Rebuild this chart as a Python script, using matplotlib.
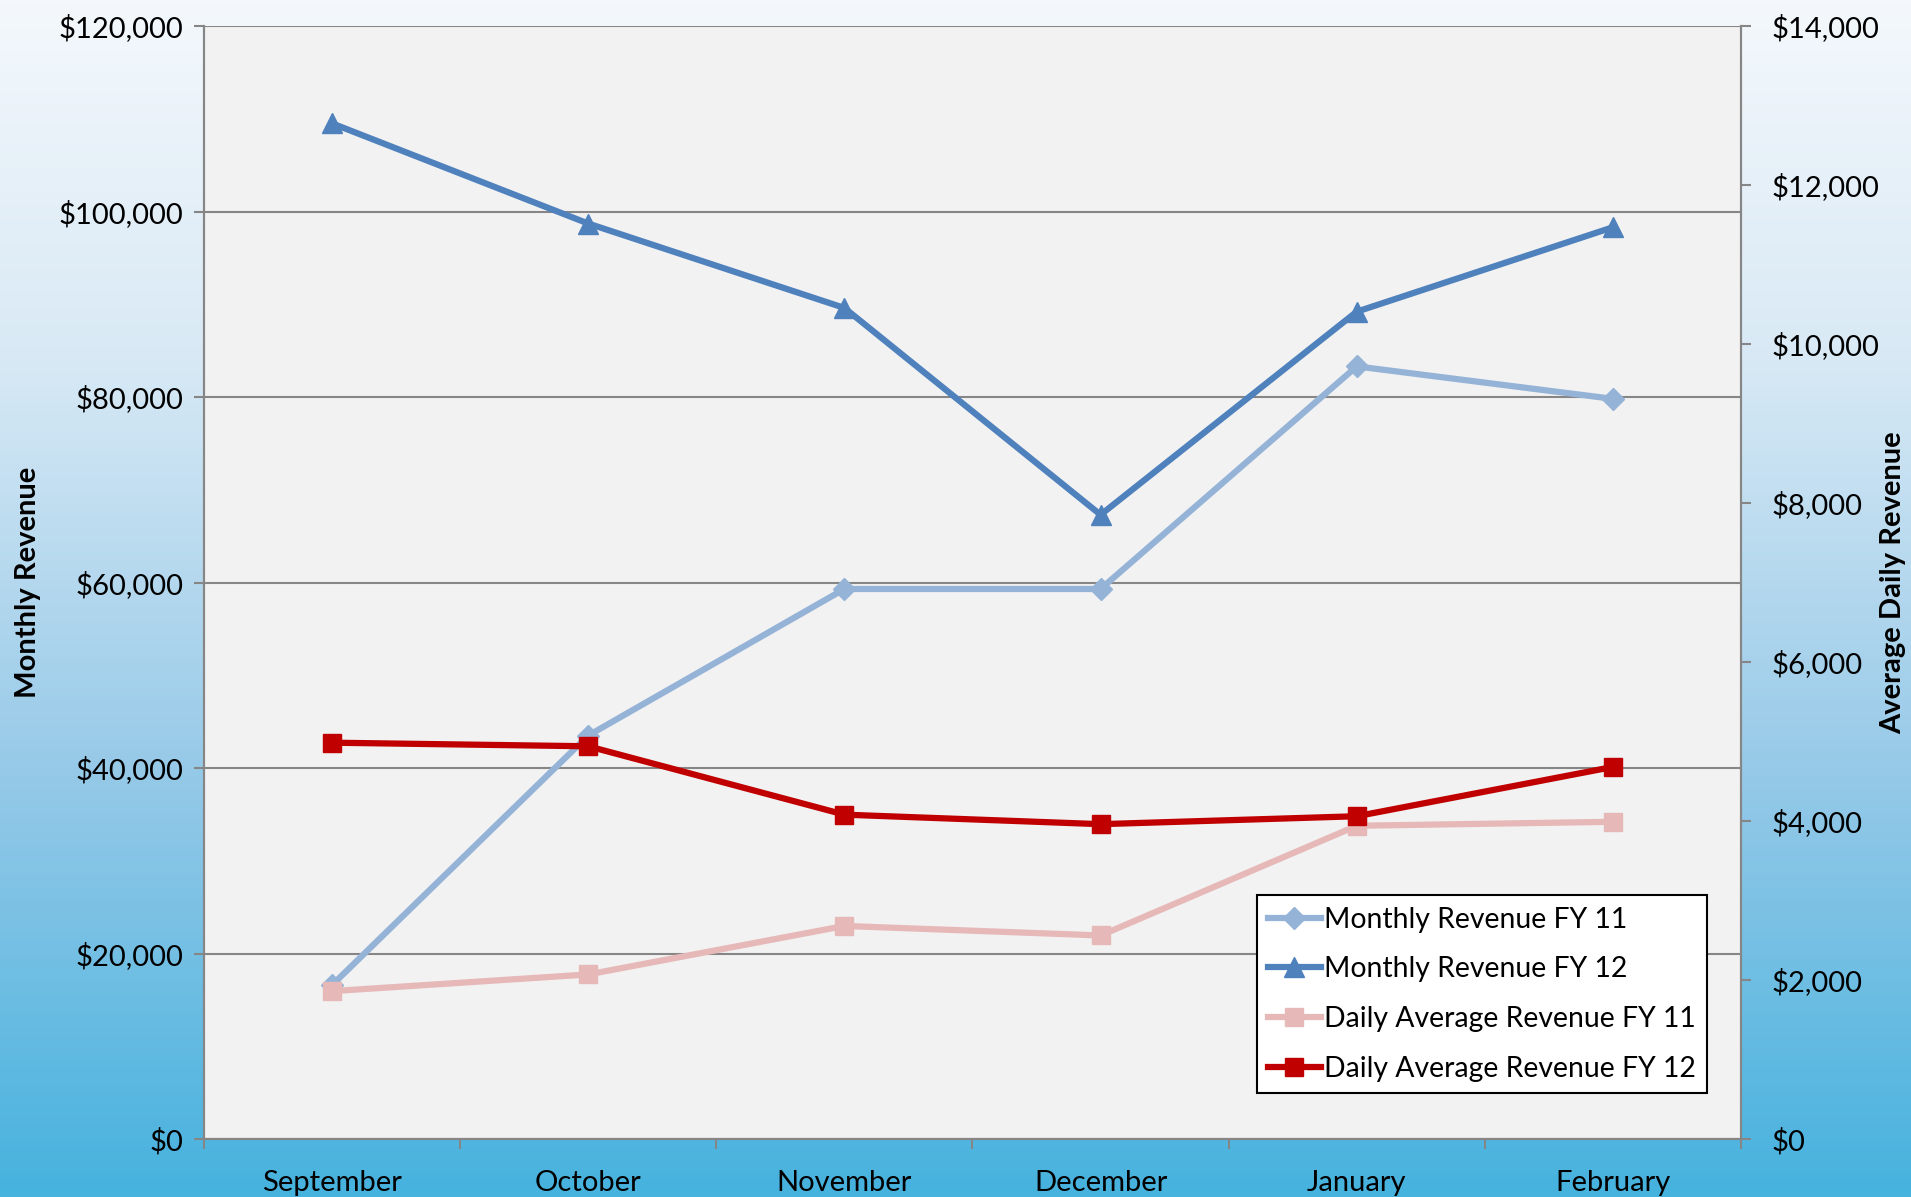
import matplotlib
matplotlib.use("Agg")
import matplotlib.pyplot as plt
import numpy as np
from matplotlib.colors import LinearSegmentedColormap
from matplotlib.ticker import FuncFormatter, MultipleLocator, FixedLocator

plt.rcParams['font.family'] = ['Lato', 'DejaVu Sans']

months = ["September", "October", "November", "December", "January", "February"]
monthly_fy11 = [16600, 43500, 59300, 59300, 83300, 79800]
monthly_fy12 = [109500, 98700, 89600, 67300, 89200, 98300]
daily_fy11 = [1860, 2070, 2680, 2560, 3940, 3990]
daily_fy12 = [4985, 4940, 4080, 3960, 4060, 4680]

fig = plt.figure(figsize=(19.11, 11.97), dpi=100)

# gradient background
bg = fig.add_axes([0, 0, 1, 1], zorder=-10)
cmap = LinearSegmentedColormap.from_list(
    "bg", [(0, "#f4f8fc"), (0.3, "#d8e9f5"), (0.65, "#95c9e8"), (1.0, "#46b2de")])
grad = np.linspace(0, 1, 256).reshape(-1, 1)
bg.imshow(grad, aspect="auto", cmap=cmap, extent=[0, 1, 1, 0])
bg.axis(False)

W, H = 1911, 1197
left, right, top, bottom = 204, 1741, 26, 1139
ax = fig.add_axes([left / W, 1 - bottom / H, (right - left) / W, (bottom - top) / H])
ax.set_facecolor("#f2f2f2")
ax2 = ax.twinx()

gray = "#868686"
fs = 21

x = np.arange(len(months))
l1, = ax.plot(x, monthly_fy11, color="#95b3d7", lw=4.5, marker="D", ms=11,
              label="Monthly Revenue FY 11", zorder=3)
l2, = ax.plot(x, monthly_fy12, color="#4f81bd", lw=4.5, marker="^", ms=15,
              label="Monthly Revenue FY 12", zorder=3)
l3, = ax2.plot(x, daily_fy11, color="#e6b9b8", lw=4.5, marker="s", ms=13,
               label="Daily Average Revenue FY 11")
l4, = ax2.plot(x, daily_fy12, color="#c00000", lw=4.5, marker="s", ms=13,
               label="Daily Average Revenue FY 12")

ax.set_xlim(-0.5, len(months) - 0.5)
ax.set_ylim(0, 120000)
ax2.set_ylim(0, 14000)
ax.yaxis.set_major_locator(MultipleLocator(20000))
ax2.yaxis.set_major_locator(MultipleLocator(2000))
money = FuncFormatter(lambda v, p: "${:,.0f}".format(v))
ax.yaxis.set_major_formatter(money)
ax2.yaxis.set_major_formatter(money)

ax.xaxis.set_major_locator(FixedLocator(np.arange(-0.5, len(months), 1.0)))
ax.xaxis.set_minor_locator(FixedLocator(x))
ax.set_xticklabels([], minor=False)
ax.set_xticklabels(months, minor=True)
ax.tick_params(axis="x", which="major", direction="out", length=7, width=1.5, color=gray)
ax.tick_params(axis="x", which="minor", length=0, pad=22, labelsize=fs)
ax.tick_params(axis="y", direction="out", length=7, width=1.5, color=gray, pad=8, labelsize=fs)
ax2.tick_params(axis="y", direction="out", length=7, width=1.5, color=gray, pad=15, labelsize=fs)

ax.grid(axis="y", color=gray, lw=1.5)
ax.set_axisbelow(True)
for a in (ax, ax2):
    for s in a.spines.values():
        s.set_color(gray)
        s.set_linewidth(1.5)
    a.spines["top"].set_visible(False)

ax.set_ylabel("Monthly Revenue", fontsize=fs, fontweight="bold", va="center")
ax.yaxis.set_label_coords(-0.1146, 0.5)
ax2.set_ylabel("Average Daily Revenue", fontsize=fs, fontweight="bold",
               rotation=90, va="center")
ax2.yaxis.set_label_coords(1.099, 0.5)

leg = ax2.legend(handles=[l1, l2, l3, l4], loc="upper left", bbox_to_anchor=(0.685, 0.219),
                 borderaxespad=0, fontsize=20.4, frameon=True, fancybox=False,
                 edgecolor="black", framealpha=1, handlelength=1.85, handletextpad=0.12,
                 labelspacing=0.84, borderpad=0.4)
leg.get_frame().set_linewidth(1.5)

fig.savefig("out.png", dpi=100)
